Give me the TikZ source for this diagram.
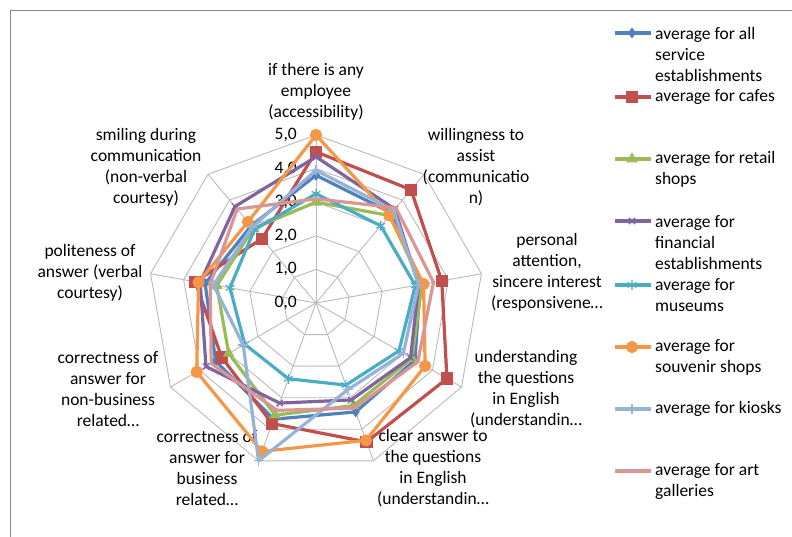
\documentclass[tikz,border=0pt]{standalone}
\usepackage{fontspec}
\setmainfont{Carlito}
\usetikzlibrary{plotmarks}

\definecolor{cAll}{RGB}{79,129,189}
\definecolor{cCafe}{RGB}{192,80,77}
\definecolor{cRetail}{RGB}{155,187,89}
\definecolor{cFin}{RGB}{128,100,162}
\definecolor{cMus}{RGB}{75,172,198}
\definecolor{cSouv}{RGB}{247,150,70}
\definecolor{cKiosk}{RGB}{149,179,215}
\definecolor{cArt}{RGB}{217,150,148}

\tikzset{
  web/.style={draw=black!27, line width=0.9pt},
  frame/.style={draw=black!48, line width=0.9pt},
  series/.style={line width=3.2pt, line join=round},
  axlabel/.style={align=center, inner sep=0pt},
  legtext/.style={align=left, anchor=west, inner sep=0pt},
  ticklabel/.style={anchor=east, inner sep=0pt}
}

\newcommand{\unitr}{33.6}
% \radar{name}{colour}{mark}{nine values}
\newcommand{\radar}[4]{%
  \foreach \v [count=\i from 0] in {#4}
    \coordinate (#1\i) at ({90-40*\i}:{\v*\unitr});
  \draw[series, #2] (#10) -- (#11) -- (#12) -- (#13) -- (#14) -- (#15) -- (#16) -- (#17) -- (#18) -- cycle;
  \draw[#2, mark options={solid, line width=1.2pt}] plot[only marks, #3]
    coordinates {(#10) (#11) (#12) (#13) (#14) (#15) (#16) (#17) (#18)};
}
% \legentry{name}{y of line}{colour}{mark}{y of text}{text}
\newcommand{\legentry}[6]{%
  \coordinate (#1a) at (299,#2);
  \coordinate (#1m) at (316,#2);
  \coordinate (#1b) at (335,#2);
  \draw[series, #3] (#1a) -- (#1b);
  \draw[#3, mark options={solid, line width=1.2pt}] plot[only marks, #4] coordinates {(#1m)};
  \node[legtext] (#1t) at (339,#5) {#6};
}

\begin{document}
\begin{tikzpicture}[x=1pt, y=1pt, font=\fontsize{17.5}{21}\selectfont]
  \useasboundingbox (-316,-234) rectangle (476,303);

  % Frame
  \coordinate (fa) at (-306,-234);
  \coordinate (fb) at (-306,293);
  \coordinate (fc) at (476,293);
  \draw[frame] (fa) -- (fb) -- (fc);

  % Web
  \coordinate (O) at (0,0);
  \foreach \r in {1,...,5}
    \draw[web] (90:{\r*\unitr}) \foreach \k in {1,...,8} { -- ({90-40*\k}:{\r*\unitr}) } -- cycle;
  \foreach \k in {0,...,8} {
    \coordinate (s\k) at ({90-40*\k}:{5*\unitr});
    \draw[web] (O) -- (s\k);
  }

  % Scale
  \foreach \r in {0,...,5}
    \node[ticklabel] (t\r) at (-19,{\r*\unitr}) {\r,0};

  % Labels
  \node[axlabel] (a0) at (0,211.5) {if there is any\\employee\\(accessibility)};
  \node[axlabel] (a1) at (160,136) {willingness to\\assist\\(communicatio\\n)};
  \node[axlabel] (a2) at (231,30.5) {personal\\attention,\\sincere interest\\(responsivene…};
  \node[axlabel] (a3) at (210,-86) {understanding\\the questions\\in English\\(understandin…};
  \node[axlabel] (a4) at (117,-165.5) {clear answer to\\the questions\\in English\\(understandin…};
  \node[axlabel] (a5) at (-109,-165.5) {correctness of\\answer for\\business\\related…};
  \node[axlabel] (a6) at (-208,-86) {correctness of\\answer for\\non-business\\related…};
  \node[axlabel] (a7) at (-226,30) {politeness of\\answer (verbal\\courtesy)};
  \node[axlabel] (a8) at (-170,136) {smiling during\\communication\\(non-verbal\\courtesy)};

  % Series
  \radar{all}{cAll}{mark=diamond*, mark size=4.5}{3.8,3.5,3.15,3.4,3.45,3.68,3.45,3.35,3.0}
  \radar{cafe}{cCafe}{mark=square*, mark size=5.5}{4.5,4.4,3.8,4.5,4.4,3.82,3.24,3.65,2.5}
  \radar{retail}{cRetail}{mark=triangle*, mark size=5.5}{3.0,3.4,3.2,3.3,3.25,3.55,3.0,3.0,2.9}
  \radar{fin}{cFin}{mark=x, mark size=4.5}{4.35,3.65,3.1,3.25,3.07,3.17,3.78,3.5,3.75}
  \radar{mus}{cMus}{mark=asterisk, mark size=5}{3.25,3.0,3.0,2.85,2.6,2.4,2.45,2.6,2.85}
  \radar{souv}{cSouv}{mark=*, mark size=5.5}{5.0,3.4,3.25,3.75,4.35,4.7,4.1,3.55,3.15}
  \radar{kiosk}{cKiosk}{mark=+, mark size=5}{3.95,3.6,3.1,3.0,2.75,5.0,2.5,3.1,2.95}
  \radar{art}{cArt}{mark=none}{3.1,3.7,3.55,3.5,3.33,3.4,3.6,3.2,3.65}

  % Legend
  \legentry{lall}{270}{cAll}{mark=diamond*, mark size=4.5}{248.5}{average for all\\service\\establishments}
  \legentry{lcafe}{206}{cCafe}{mark=square*, mark size=5.5}{206}{average for cafes}
  \legentry{lretail}{144}{cRetail}{mark=triangle*, mark size=5.5}{133.5}{average for retail\\shops}
  \legentry{lfin}{82}{cFin}{mark=x, mark size=4.5}{60.5}{average for\\financial\\establishments}
  \legentry{lmus}{18}{cMus}{mark=asterisk, mark size=5}{7.5}{average for\\museums}
  \legentry{lsouv}{-44}{cSouv}{mark=*, mark size=5.5}{-54.5}{average for\\souvenir shops}
  \legentry{lkiosk}{-106}{cKiosk}{mark=+, mark size=5}{-106}{average for kiosks}
  \legentry{lart}{-168}{cArt}{mark=none}{-178.5}{average for art\\galleries}
\end{tikzpicture}
\end{document}
